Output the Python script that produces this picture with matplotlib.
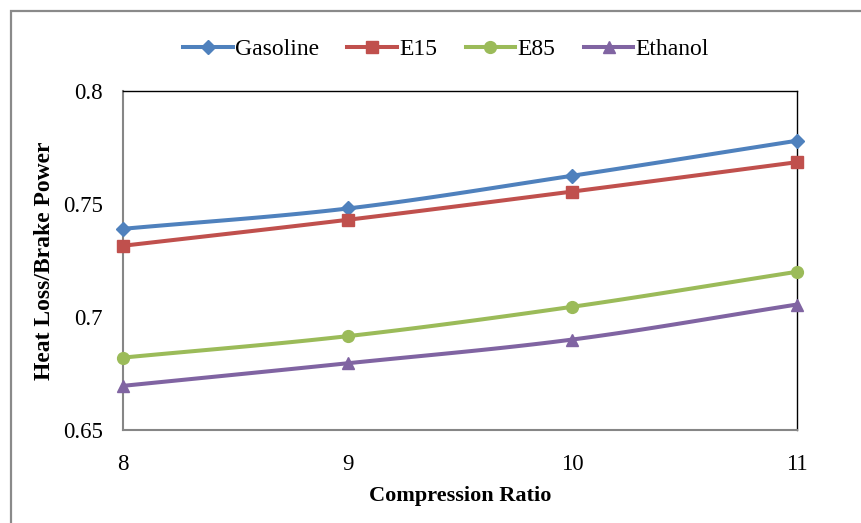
import numpy as np
import matplotlib
matplotlib.use("Agg")
import matplotlib.pyplot as plt
from matplotlib.patches import Rectangle

plt.rcParams['font.family'] = ['Liberation Serif', 'DejaVu Serif']

compression_ratio = [8, 9, 10, 11]
gasoline = [0.739, 0.748, 0.7625, 0.778]
e15 = [0.7315, 0.743, 0.7555, 0.7685]
e85 = [0.682, 0.6915, 0.7045, 0.72]
ethanol = [0.6695, 0.6795, 0.69, 0.7055]

series = [
    ("Gasoline", gasoline, "#4F81BD", "D", 7.5),
    ("E15", e15, "#C0504D", "s", 8),
    ("E85", e85, "#9BBB59", "o", 8.5),
    ("Ethanol", ethanol, "#8064A2", "^", 9),
]


def smooth(x, y, n=40):
    """Catmull-Rom spline through the points (smoothed line)."""
    x = np.asarray(x, float)
    y = np.asarray(y, float)
    px = np.concatenate([[2 * x[0] - x[1]], x, [2 * x[-1] - x[-2]]])
    py = np.concatenate([[2 * y[0] - y[1]], y, [2 * y[-1] - y[-2]]])
    xs, ys = [], []
    for i in range(1, len(px) - 2):
        t = np.linspace(0, 1, n, endpoint=(i == len(px) - 3))
        for arr, out in ((px, xs), (py, ys)):
            p0, p1, p2, p3 = arr[i - 1], arr[i], arr[i + 1], arr[i + 2]
            out.extend(0.5 * ((2 * p1) + (-p0 + p2) * t
                              + (2 * p0 - 5 * p1 + 4 * p2 - p3) * t ** 2
                              + (-p0 + 3 * p1 - 3 * p2 + p3) * t ** 3))
    return np.array(xs), np.array(ys)


fig = plt.figure(figsize=(8.61, 5.23), dpi=100)
ax = fig.add_axes([0.1429, 0.178, 0.7828, 0.648])

handles = []
for name, vals, color, marker, ms in series:
    sx, sy = smooth(compression_ratio, vals)
    ax.plot(sx, sy, color=color, lw=2.9, solid_capstyle='butt', zorder=3, clip_on=False)
    ax.plot(compression_ratio, vals, linestyle='none', marker=marker, ms=ms,
            color=color, zorder=4, clip_on=False)
    h, = ax.plot([], [], color=color, lw=2.9, marker=marker, ms=ms)
    handles.append(h)

ax.set_xlim(8, 11)
ax.set_ylim(0.65, 0.8)
ax.set_xticks([8, 9, 10, 11])
ax.set_xticklabels(["8", "9", "10", "11"])
ax.set_yticks([0.65, 0.7, 0.75, 0.8])
ax.set_yticklabels(["0.65", "0.7", "0.75", "0.8"])
ax.tick_params(length=0, labelsize=16.5)
ax.tick_params(axis='x', pad=17)
ax.tick_params(axis='y', pad=14.5)

for side in ('left', 'bottom'):
    ax.spines[side].set_color('#868686')
    ax.spines[side].set_linewidth(1.5)
for side in ('top', 'right'):
    ax.spines[side].set_color('black')
    ax.spines[side].set_linewidth(1.0)

ax.set_xlabel("Compression Ratio", fontsize=16, fontweight='bold', labelpad=8)
ax.set_ylabel("Heat Loss/Brake Power", fontsize=17, fontweight='bold', labelpad=6)

fig.legend(handles=handles, labels=[s[0] for s in series], loc='center',
           bbox_to_anchor=(0.518, 0.906), ncol=4, frameon=False, fontsize=17,
           handlelength=2.1, handletextpad=0.1, columnspacing=1.2)

# outer chart frame
fig.add_artist(Rectangle((10.5 / 861, -0.1), 1.2, 1.1 - 11.5 / 523,
                         transform=fig.transFigure, fill=False,
                         edgecolor='#8a8a8a', lw=1.6))

fig.savefig("out.png", dpi=100)
